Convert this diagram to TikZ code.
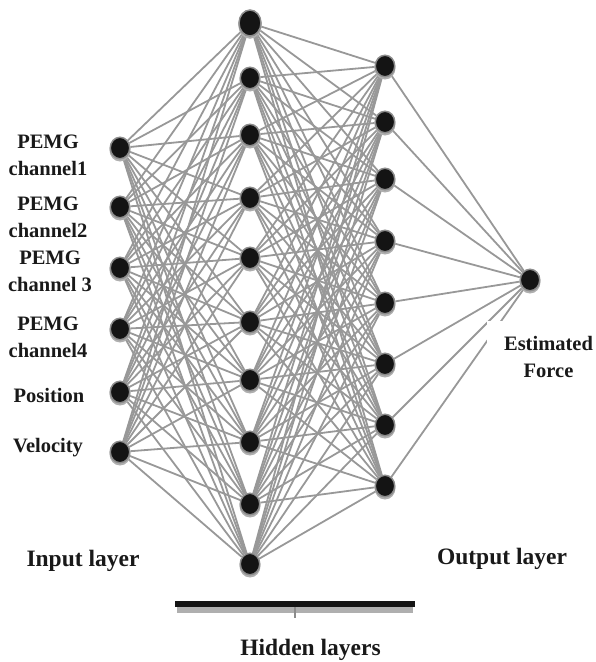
\documentclass[tikz,border=0pt]{standalone}
\usepackage{fontspec}
\setmainfont{Liberation Serif}[BoldFont={Liberation Serif Bold}]
\usetikzlibrary{shapes.geometric,shadows}
\definecolor{edgegray}{RGB}{152,152,152}
\definecolor{nodefill}{RGB}{20,20,20}
\definecolor{ringgray}{RGB}{140,140,140}
\definecolor{shadowgray}{RGB}{175,175,175}
\pgfdeclarelayer{bg}
\pgfsetlayers{bg,main}
\tikzset{
  neuron/.style={ellipse, fill=nodefill, draw=ringgray, line width=1.5pt,
    minimum width=19.5pt, minimum height=21.5pt, inner sep=0pt,
    copy shadow={shadow xshift=0pt, shadow yshift=-2pt, fill=shadowgray, draw=shadowgray}},
  bigneuron/.style={neuron, minimum width=22pt, minimum height=26pt},
  conn/.style={draw=edgegray, line width=1.8pt},
  lbl/.style={font=\bfseries\fontsize{20.5}{27}\selectfont, align=center, inner sep=0pt, text=black!90},
  title/.style={font=\bfseries\fontsize{23.5}{28}\selectfont, inner sep=0pt, text=black!90},
}
\begin{document}
\begin{tikzpicture}[x=1pt,y=-1pt]
\useasboundingbox (0,0) rectangle (596,662);
% input layer
\foreach \y [count=\i] in {148,207,268,329,392,452}
  \node[neuron] (i\i) at (120,\y) {};
% first hidden layer
\node[bigneuron] (h1) at (250,23) {};
\foreach \y [count=\i from 2] in {78,135,198,258,322,380,442,504,564}
  \node[neuron] (h\i) at (250,\y) {};
% second hidden layer
\foreach \y [count=\i] in {66,122,179,241,303,364,425,486}
  \node[neuron] (g\i) at (385,\y) {};
% output
\node[neuron] (o) at (530,280) {};
% connections
\begin{pgfonlayer}{bg}
\foreach \a in {1,...,6}
  \foreach \b in {1,...,10}
    \draw[conn] (i\a) -- (h\b);
\foreach \a in {1,...,10}
  \foreach \b in {1,...,8}
    \draw[conn] (h\a) -- (g\b);
\foreach \a in {1,...,8}
  \draw[conn] (g\a) -- (o);
\end{pgfonlayer}
% labels (base anchor = baseline of last line)
\node[lbl, anchor=base] (l1) at (48,175) {PEMG\\channel1};
\node[lbl, anchor=base] (l2) at (48,237) {PEMG\\channel2};
\node[lbl, anchor=base] (l3) at (50,291) {PEMG\\channel 3};
\node[lbl, anchor=base] (l4) at (48,357) {PEMG\\channel4};
\node[lbl, anchor=base] (l5) at (49,402) {Position};
\node[lbl, anchor=base] (l6) at (48,452) {Velocity};
\node[lbl, anchor=base, fill=white, inner xsep=17pt, inner ysep=15pt] (est) at (548.5,377) {Estimated\\Force};
\node[title, anchor=base] (tin) at (83,566) {Input layer};
\node[title, anchor=base] (tout) at (502,564) {Output layer};
\node[title, anchor=base] (thid) at (310.5,655) {Hidden layers};
% bracket bar
\fill[shadowgray] (177,606) rectangle (413,613);
\fill[nodefill] (175,601) rectangle (415,607);
\coordinate (tick) at (295,607);
\draw[ringgray, line width=1.5pt] (tick) -- ++(0,11);
\end{tikzpicture}
\end{document}
